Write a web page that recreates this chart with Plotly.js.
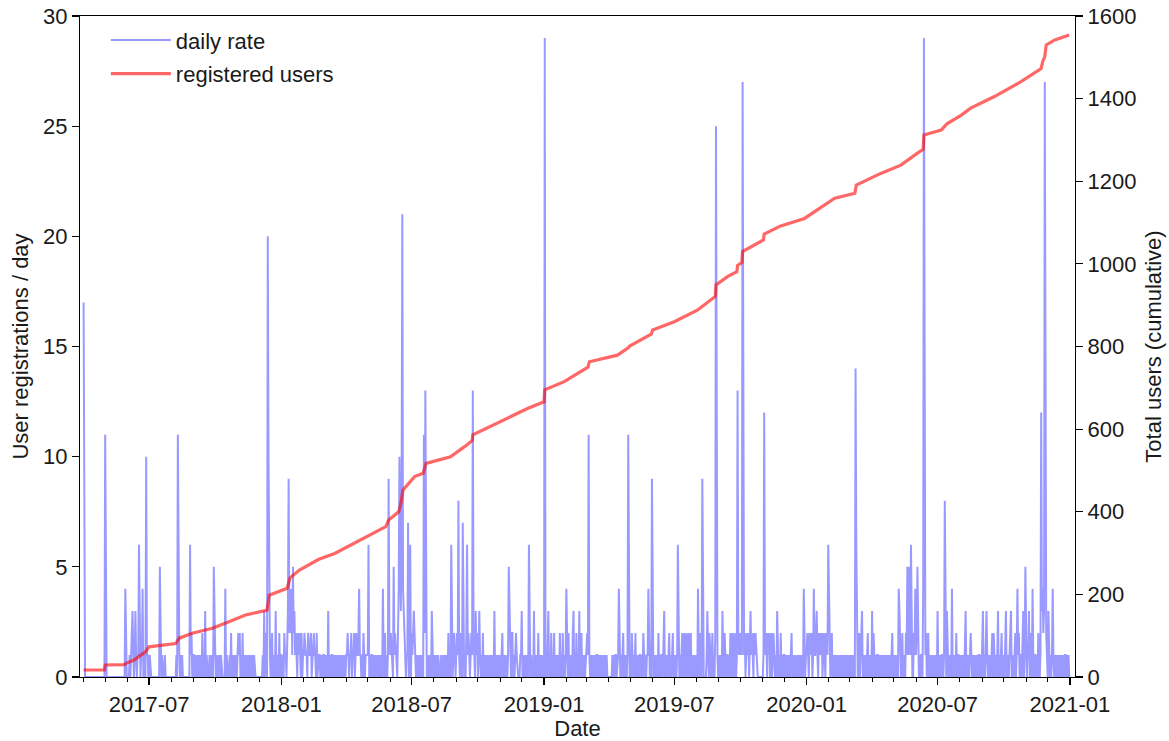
<!DOCTYPE html>
<html><head><meta charset="utf-8">
<script src="https://cdn.plot.ly/plotly-3.0.1.min.js"></script>
<style>html,body{margin:0;padding:0;background:#fff}#chart{width:1169px;height:741px}</style>
</head><body><div id="chart"></div>
<script>
// ---- data ----
const firstMonth = [2017, 4];           // daily series starts 2017-04-01
// one string per calendar month, one base-36 character per day (registrations that day)
const dailyByMonth = [
  "h000000000"+"0000000000"+"0000000000",      // 2017-04
  "b100000000"+"0000000000"+"00000000400",     // 2017-05
  "0001012310"+"1310116101"+"140110a110",      // 2017-06
  "0100000000"+"0000050010"+"00100000000",     // 2017-07
  "000000010b"+"1101010000"+"00000061201",     // 2017-08
  "1010010101"+"0020103010"+"0010010051",      // 2017-09
  "1010010010"+"0000401000"+"10201010110",     // 2017-10
  "1212010201"+"1010010100"+"1001000000",      // 2017-11
  "0000010301"+"20ka310120"+"10030100201",     // 2017-12
  "1010211023"+"9242415231"+"21021210201",     // 2018-01
  "1211102111"+"2011211020"+"11101001",        // 2018-02
  "1010103001"+"0110101010"+"01010010100",     // 2018-03
  "1121011201"+"1201211241"+"1010210111",      // 2018-04
  "1601011010"+"1011010101"+"04102010192",     // 2018-05
  "1211051211"+"024a538l42"+"2101170160",      // 2018-06
  "2123210100"+"1001010b2d"+"10100100300",     // 2018-07
  "0100101000"+"1001010010"+"20106101210",     // 2018-08
  "1218102107"+"1000261210"+"121d210312",      // 2018-09
  "0131010201"+"0101001010"+"10030101010",     // 2018-10
  "1012010101"+"0153102201"+"0121000011",      // 2018-11
  "3010010100"+"6101000301"+"01020010100",     // 2018-12
  "0t01013010"+"2010201010"+"10201020101",     // 2019-01
  "4102010102"+"3010201030"+"12010101",        // 2019-02
  "121b101010"+"1010110101"+"01011010100",     // 2019-03
  "0000010101"+"1011410101"+"2010101b10",      // 2019-04
  "1021010201"+"0101101021"+"01011410109",     // 2019-05
  "1010101020"+"1011013010"+"1012010120",      // 2019-06
  "1010161010"+"1201201201"+"20120101101",     // 2019-07
  "1041021090"+"0000131021"+"0120102p210",     // 2019-08
  "1011031021"+"0110102102"+"102101d212",      // 2019-09
  "121r212012"+"1201312102"+"12100000000",     // 2019-10
  "01c2120212"+"0120121010"+"3101020101",      // 2019-11
  "1010010101"+"2010100101"+"01010104101",     // 2019-12
  "1210211201"+"4112310212"+"12012102116",     // 2020-01
  "3101201010"+"1010110101"+"010101101",       // 2020-02
  "10101010e6"+"2012012301"+"01101201010",     // 2020-03
  "3021010110"+"1010010101"+"0101010120",      // 2020-04
  "1010110431"+"0120110215"+"15216000214",     // 2020-05
  "1251010110"+"4t21201201"+"0101001010",      // 2020-06
  "3010101101"+"8103101010"+"40101020110",     // 2020-07
  "1011010130"+"1010121010"+"10101011010",     // 2020-08
  "1301013101"+"0101202101"+"0130101201",      // 2020-09
  "1013011012"+"3011012014"+"12011023015",     // 2020-10
  "1011301204"+"1011010210"+"1c3423r421",      // 2020-11
  "0310101410"+"1010101010"+"10101101010"      // 2020-12
];
const cumDates = [
  "2017-04-01","2017-04-30","2017-05-01","2017-05-28","2017-05-30","2017-06-10","2017-06-26","2017-07-01",
  "2017-08-07","2017-08-12","2017-08-30","2017-09-27","2017-10-20","2017-11-12","2017-12-12","2017-12-15",
  "2018-01-09","2018-01-13","2018-01-26","2018-02-22","2018-03-16","2018-05-01","2018-05-26","2018-05-30",
  "2018-06-13","2018-06-16","2018-06-19","2018-07-05","2018-07-17","2018-07-21","2018-08-24","2018-09-12",
  "2018-09-23","2018-09-24","2018-11-02","2018-12-09","2019-01-01","2019-01-02","2019-01-29","2019-03-03",
  "2019-03-05","2019-04-13","2019-04-28","2019-04-30","2019-05-30","2019-06-01","2019-07-01","2019-08-02",
  "2019-08-27","2019-08-28","2019-09-13","2019-09-26","2019-09-27","2019-10-03","2019-10-04","2019-11-02",
  "2019-11-03","2019-11-26","2019-12-29","2020-01-30","2020-02-09","2020-03-08","2020-03-10","2020-04-13",
  "2020-05-11","2020-06-03","2020-06-11","2020-06-12","2020-07-06","2020-07-14","2020-08-03","2020-08-16",
  "2020-09-18","2020-10-25","2020-11-22","2020-11-24","2020-11-27","2020-11-29","2020-12-11","2020-12-31"
];
const cumUsers = [
  17,17,29,30,33,41,61,73,
  81,94,106,118,134,150,162,198,
  215,240,259,285,299,340,364,380,
  400,420,453,485,493,517,533,557,
  572,586,618,650,666,695,715,750,
  763,779,797,801,830,840,860,888,
  921,949,969,981,996,1003,1030,1058,
  1072,1092,1110,1147,1159,1171,1191,1219,
  1239,1268,1277,1312,1324,1339,1360,1377,
  1405,1441,1473,1489,1502,1530,1542,1554
];
const leftTicks = [0, 5, 10, 15, 20, 25, 30];
const rightTicks = [0, 200, 400, 600, 800, 1000, 1200, 1400, 1600];
const seriesNames = ["daily rate", "registered users"];
const axisTitles = {x: "Date", y: "User registrations / day", y2: "Total users (cumulative)"};

// ---- decode daily series ----
const dates = [], rate = [];
dailyByMonth.forEach((s, i) => {
  const mi = firstMonth[1] - 1 + i;
  const yr = firstMonth[0] + Math.floor(mi / 12);
  const mo = mi % 12;
  const len = new Date(Date.UTC(yr, mo + 1, 0)).getUTCDate();
  for (let d = 0; d < Math.min(s.length, len); d++) {
    dates.push(new Date(Date.UTC(yr, mo, d + 1)).toISOString().slice(0, 10));
    rate.push(parseInt(s[d], 36));
  }
});

const txt = '#1a1a1a';
const FONT = 'Liberation Sans, Arial, sans-serif';
const traces = [
  {x: dates, y: rate, type: 'scatter', mode: 'lines', name: seriesNames[0], legendgroup: 'a',
   line: {color: 'rgba(0,0,255,0.4)', width: 2}, yaxis: 'y', hoverinfo: 'skip'},
  {x: cumDates, y: cumUsers, type: 'scatter', mode: 'lines', name: seriesNames[1], legendgroup: 'b',
   line: {color: 'rgba(255,0,0,0.6)', width: 3.2}, yaxis: 'y2', hoverinfo: 'skip'}
];
const layout = {
  width: 1169, height: 741,
  margin: {l: 80, r: 94, t: 16, b: 64},
  paper_bgcolor: '#fff', plot_bgcolor: '#fff',
  font: {family: FONT, size: 22, color: txt},
  showlegend: true, hovermode: false,
  legend: {x: 0.026, y: 0.995, xanchor: 'left', yanchor: 'top', bgcolor: 'rgba(0,0,0,0)',
           borderwidth: 0, font: {family: FONT, size: 22, color: txt}, tracegroupgap: 2,
           traceorder: 'grouped', itemwidth: 60},
  xaxis: {type: 'date', range: ['2017-03-27', '2021-01-08'], tickmode: 'linear', tick0: '2017-07-01', dtick: 'M6',
          tickformat: '%Y-%m', ticks: 'outside', ticklen: 7, tickwidth: 1.2, tickcolor: '#000',
          showline: true, linecolor: '#000', linewidth: 1.2, mirror: true, showgrid: false, zeroline: false,
          minor: {dtick: 'M1', tick0: '2017-07-01', ticks: 'outside', ticklen: 4, tickwidth: 1, tickcolor: '#000', showgrid: false},
          tickfont: {family: FONT, size: 22, color: txt},
          title: {text: axisTitles.x, font: {family: FONT, size: 22, color: txt}, standoff: 4}},
  yaxis: {range: [0, 30], tickmode: 'array', tickvals: leftTicks, ticks: 'outside', ticklen: 7, tickwidth: 1.2,
          tickcolor: '#000', showline: true, linecolor: '#000', linewidth: 1.2, showgrid: false, zeroline: false,
          tickfont: {family: FONT, size: 22, color: txt},
          title: {text: axisTitles.y, font: {family: FONT, size: 22, color: txt}, standoff: 8}},
  yaxis2: {range: [0, 1600], overlaying: 'y', side: 'right', tickmode: 'array', tickvals: rightTicks,
           ticks: 'outside', ticklen: 7, tickwidth: 1.2, tickcolor: '#000', showline: true, linecolor: '#000',
           linewidth: 1.2, showgrid: false, zeroline: false,
           tickfont: {family: FONT, size: 22, color: txt},
           title: {text: axisTitles.y2, font: {family: FONT, size: 22, color: txt}, standoff: 10}}
};
Plotly.newPlot('chart', traces, layout, {displayModeBar: false, staticPlot: true});
</script>
</body></html>
